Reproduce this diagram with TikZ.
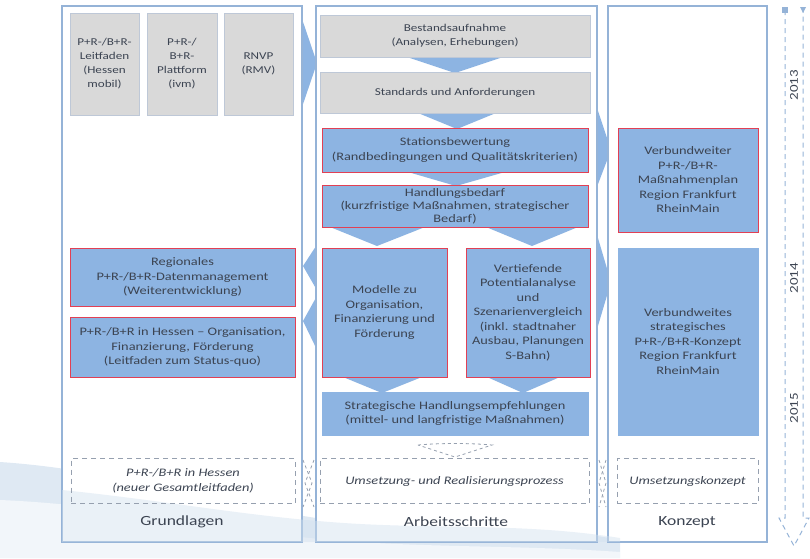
\documentclass[tikz,border=0pt]{standalone}
\usepackage{fontspec}
\setmainfont{Carlito}[FakeStretch=1.25]
\usetikzlibrary{calc}
\definecolor{pborder}{RGB}{149,179,215}
\definecolor{bfill}{RGB}{141,180,226}
\definecolor{cfill}{RGB}{141,180,226}
\definecolor{gfill}{RGB}{217,217,217}
\definecolor{gborder}{RGB}{190,200,215}
\definecolor{rborder}{RGB}{226,64,84}
\definecolor{txt}{RGB}{60,68,82}
\definecolor{dashcol}{RGB}{150,160,175}
\definecolor{swoosh}{RGB}{210,224,238}
\tikzset{
  panel/.style={draw=pborder, line width=1.1pt, fill=white, minimum width=#1, inner sep=0pt},
  graybox/.style={draw=gborder, line width=0.7pt, fill=gfill, text=txt, align=center, inner sep=1pt, font=\fontsize{10.5}{14}\selectfont},
  redbox/.style={draw=rborder, line width=0.9pt, fill=bfill, text=txt, align=center, inner sep=1pt, font=\fontsize{11.5}{14.5}\selectfont},
  bluebox/.style={draw=bfill, line width=0.6pt, fill=bfill, text=txt, align=center, inner sep=1pt, font=\fontsize{11.5}{14.5}\selectfont},
  dbox/.style={draw=dashcol, dashed, dash pattern=on 5pt off 4pt, line width=0.9pt, text=txt, align=center, inner sep=1pt, font=\fontsize{11.5}{14.5}\selectfont\itshape},
  chev/.style={fill=cfill, draw=none},
  dline/.style={draw=dashcol, dashed, dash pattern=on 3pt off 3pt, line width=0.8pt},
  collabel/.style={text=txt, font=\fontsize{14}{16}\selectfont},
  yearlabel/.style={text=txt, font=\fontsize{12}{14}\selectfont, rotate=90},
  tline/.style={draw=pborder, dashed, dash pattern=on 5pt off 4pt, line width=1pt}
}
\begin{document}
\begin{tikzpicture}[x=1pt,y=-1pt]
\useasboundingbox (0,0) rectangle (810,558);
% background swoosh
\fill[swoosh, opacity=0.7] (0,462) .. controls (120,470) and (220,505) .. (330,520) .. controls (430,532) and (520,520) .. (620,540) -- (620,558) -- (0,558) -- cycle;
\fill[white, opacity=0.6] (0,500) .. controls (120,505) and (220,530) .. (330,540) .. controls (430,548) and (520,545) .. (620,552) -- (620,558) -- (0,558) -- cycle;
% chevrons between panels
\fill[chev] (300,13) -- (317,63) -- (300,113) -- cycle;
\fill[chev] (318,243) -- (303,266) -- (318,292) -- cycle;
\fill[chev] (318,294) -- (303,321) -- (318,352) -- cycle;
\fill[chev] (595,102) -- (611,150) -- (595,192) -- cycle;
\fill[chev] (595,228) -- (611,282) -- (595,336) -- cycle;
% panels
\node[panel=240pt, minimum height=536pt] (left) at (182,274) {};
\node[panel=281pt, minimum height=536pt] (mid) at (456.5,274) {};
\node[panel=159pt, minimum height=536pt] (right) at (687.5,274) {};
\fill[swoosh, opacity=0.45] (62,490) .. controls (160,500) and (240,515) .. (330,522) .. controls (430,530) and (520,522) .. (620,538) -- (620,542) -- (62,542) -- cycle;
% chevrons down in middle
\fill[chev] (407,57) -- (503,57) -- (455,73) -- cycle;
\fill[chev] (418,113) -- (496,113) -- (457,129) -- cycle;
\fill[chev] (408,172) -- (505,172) -- (456,186) -- cycle;
\fill[chev] (330,227) -- (425,227) -- (377,246) -- cycle;
\fill[chev] (486,227) -- (578,227) -- (532,246) -- cycle;
\fill[chev] (343,377) -- (422,377) -- (382,393) -- cycle;
\fill[chev] (487,377) -- (560,377) -- (523,393) -- cycle;
% left column
\node[graybox, minimum width=69pt, minimum height=102pt] (g1) at (104.5,64) {P+R-/B+R-\\Leitfaden\\(Hessen\\mobil)};
\node[graybox, minimum width=70pt, minimum height=102pt] (g2) at (182,64) {P+R-/\\B+R-\\Plattform\\(ivm)};
\node[graybox, minimum width=69pt, minimum height=102pt] (g3) at (258.5,64) {RNVP\\(RMV)};
\node[redbox, minimum width=225pt, minimum height=58pt] (r1) at (182.5,277) {Regionales\\P+R-/B+R-Datenmanagement\\(Weiterentwicklung)};
\node[redbox, minimum width=225pt, minimum height=60pt] (r2) at (182.5,347) {P+R-/B+R in Hessen -- Organisation,\\Finanzierung, Förderung\\(Leitfaden zum Status-quo)};
\node[dbox, minimum width=224pt, minimum height=45pt] (d1) at (183,481) {P+R-/B+R in Hessen\\(neuer Gesamtleitfaden)};
\node[collabel] (l1) at (182,522) {Grundlagen};
% middle column
\node[graybox, minimum width=270pt, minimum height=42pt] (m1) at (455,36) {Bestandsaufnahme\\(Analysen, Erhebungen)};
\node[graybox, minimum width=270pt, minimum height=41pt] (m2) at (455,92.5) {Standards und Anforderungen};
\node[redbox, minimum width=266pt, minimum height=44pt] (m3) at (455,150) {Stationsbewertung\\(Randbedingungen und Qualitätskriterien)};
\node[redbox, minimum width=266pt, minimum height=42pt, font=\fontsize{11.5}{13}\selectfont] (m4) at (455,206) {Handlungsbedarf\\(kurzfristige Maßnahmen, strategischer\\Bedarf)};
\node[redbox, minimum width=125pt, minimum height=129pt] (m5) at (384.5,312.5) {Modelle zu\\Organisation,\\Finanzierung und\\Förderung};
\node[redbox, minimum width=124pt, minimum height=129pt] (m6) at (528,312.5) {Vertiefende\\Potentialanalyse\\und\\Szenarienvergleich\\(inkl. stadtnaher\\Ausbau, Planungen\\S-Bahn)};
\node[bluebox, minimum width=266pt, minimum height=43pt] (m7) at (455,413.5) {Strategische Handlungsempfehlungen\\(mittel- und langfristige Maßnahmen)};
\node[dbox, minimum width=269pt, minimum height=45pt] (d2) at (454.5,481) {Umsetzung- und Realisierungsprozess};
\node[collabel] (l2) at (456,522) {Arbeitsschritte};
\draw[dline] (418,445) .. controls (440,443) and (470,443) .. (492,445) -- (455,457) -- cycle;
% right column
\node[redbox, minimum width=140pt, minimum height=104pt] (v1) at (688,180) {Verbundweiter\\P+R-/B+R-\\Maßnahmenplan\\Region Frankfurt\\RheinMain};
\node[bluebox, minimum width=140pt, minimum height=187pt] (v2) at (688,341.5) {Verbundweites\\strategisches\\P+R-/B+R-Konzept\\Region Frankfurt\\RheinMain};
\node[dbox, minimum width=141pt, minimum height=45pt] (d3) at (687.5,481) {Umsetzungskonzept};
\node[collabel] (l3) at (687,522) {Konzept};
% dashed arrows between panels at bottom
\draw[dline] (314,460) -- (305,483) -- (314,507);
\draw[dline] (303,460) -- (312,483) -- (303,507);
\draw[dline] (606,460) -- (599,483) -- (606,507);
\draw[dline] (599,460) -- (606,483) -- (599,507);
% timeline
\coordinate (ta) at (785,10);
\coordinate (tb) at (803,10);
\coordinate (tc) at (785,518);
\coordinate (td) at (803,518);
\coordinate (tp) at (794,546);
\draw[tline] (ta) -- (tc) -- ++(-6,0) -- (tp) -- ($(td)+(6,0)$) -- (td) -- (tb);
\fill[pborder] (782,7) rectangle (788,13);
\fill[pborder] (800,7) -- (806,7) -- (803,13) -- cycle;
\node[yearlabel, fill=white, inner sep=1pt] (y1) at (794,85) {2013};
\node[yearlabel, fill=white, inner sep=1pt] (y2) at (794,278) {2014};
\node[yearlabel, fill=white, inner sep=1pt] (y3) at (794,408) {2015};
\end{tikzpicture}
\end{document}
